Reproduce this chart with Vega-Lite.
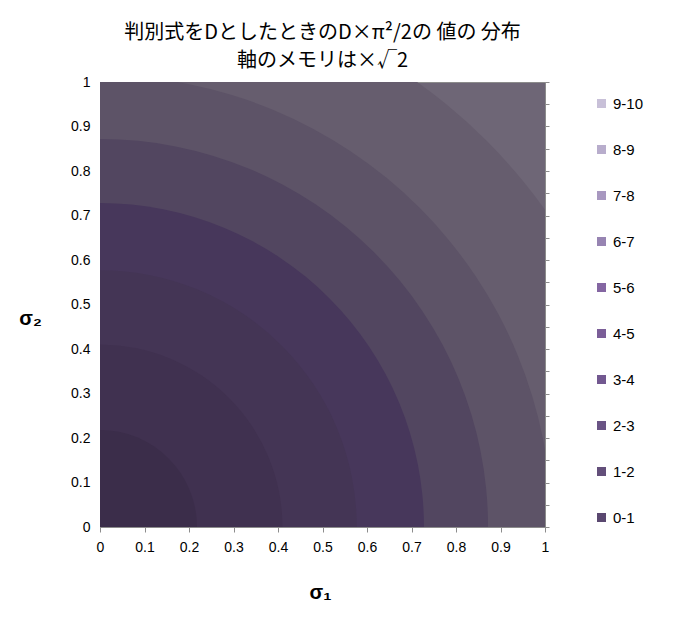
{
  "$schema": "https://vega.github.io/schema/vega-lite/v6.json",
  "width": 445,
  "height": 445,
  "autosize": "none",
  "padding": {"left": 100, "top": 82, "right": 138, "bottom": 92},
  "background": "white",
  "config": {
    "view": {"stroke": "#8c8c8c", "fill": "#6e6676"},
    "font": "Liberation Sans"
  },
  "title": {
    "text": ["判別式をDとしたときのD×π²/2の 値の 分布", "軸のメモリは×√2"],
    "font": "Noto Sans CJK JP",
    "fontSize": 20,
    "fontWeight": "normal",
    "color": "black",
    "lineHeight": 28,
    "anchor": "middle",
    "offset": 4
  },
  "layer": [
    {
      "data": {
        "values": [
          {"band": "6-7", "r": 1.228},
          {"band": "5-6", "r": 1.015},
          {"band": "4-5", "r": 0.872},
          {"band": "3-4", "r": 0.728},
          {"band": "2-3", "r": 0.577},
          {"band": "1-2", "r": 0.41},
          {"band": "0-1", "r": 0.218}
        ]
      },
      "mark": {"type": "arc", "theta": 0, "theta2": 1.5708, "clip": true},
      "encoding": {
        "x": {
          "datum": 0,
          "type": "quantitative",
          "scale": {"domain": [0, 1], "nice": false},
          "axis": {
            "title": "σ₁",
            "values": [0, 0.1, 0.2, 0.3, 0.4, 0.5, 0.6, 0.7, 0.8, 0.9, 1],
            "format": "~g",
            "grid": false,
            "labelFontSize": 14,
            "labelColor": "black",
            "labelPadding": 8,
            "labelOverlap": false,
            "labelFlush": false,
            "tickSize": 5,
            "tickColor": "#8c8c8c",
            "domainColor": "#8c8c8c",
            "titleFontSize": 20,
            "titleFontWeight": "bold",
            "titleColor": "black",
            "titleX": 220,
            "titleY": 65,
            "titleAlign": "center",
            "titleBaseline": "middle"
          }
        },
        "y": {
          "datum": 0,
          "type": "quantitative",
          "scale": {"domain": [0, 1], "nice": false},
          "axis": {
            "title": "σ₂",
            "values": [0, 0.1, 0.2, 0.3, 0.4, 0.5, 0.6, 0.7, 0.8, 0.9, 1],
            "format": "~g",
            "grid": false,
            "ticks": false,
            "labelFontSize": 14,
            "labelColor": "black",
            "labelPadding": 10,
            "labelOverlap": false,
            "labelFlush": false,
            "domainColor": "#8c8c8c",
            "titleFontSize": 20,
            "titleFontWeight": "bold",
            "titleColor": "black",
            "titleAngle": 0,
            "titleX": -70,
            "titleY": 236,
            "titleAlign": "center",
            "titleBaseline": "middle"
          }
        },
        "radius": {
          "field": "r",
          "type": "quantitative",
          "stack": null,
          "scale": {"type": "linear", "domain": [0, 1], "range": [0, 445], "zero": true}
        },
        "fill": {
          "field": "band",
          "type": "nominal",
          "scale": {
            "domain": ["0-1", "1-2", "2-3", "3-4", "4-5", "5-6", "6-7"],
            "range": ["#3b2d4a", "#403150", "#443555", "#47375b", "#524660", "#5d5367", "#665d6e"]
          },
          "legend": null
        }
      }
    },
    {
      "data": {
        "values": [
          {"band": "9-10"}, {"band": "8-9"}, {"band": "7-8"}, {"band": "6-7"}, {"band": "5-6"},
          {"band": "4-5"}, {"band": "3-4"}, {"band": "2-3"}, {"band": "1-2"}, {"band": "0-1"}
        ]
      },
      "mark": {"type": "point", "filled": true, "shape": "square", "opacity": 0},
      "encoding": {
        "x": {"datum": 0, "type": "quantitative"},
        "y": {
          "datum": 0,
          "type": "quantitative",
          "scale": {"domain": [0, 1], "nice": false},
          "axis": {
            "orient": "right",
            "values": [0, 0.05, 0.1, 0.15, 0.2, 0.25, 0.3, 0.35, 0.4, 0.45, 0.5, 0.55, 0.6, 0.65, 0.7, 0.75, 0.8, 0.85, 0.9, 0.95, 1],
            "labels": false,
            "grid": false,
            "tickSize": 4,
            "tickColor": "#8c8c8c",
            "domainColor": "#8c8c8c",
            "title": null
          }
        },
        "color": {
          "field": "band",
          "type": "nominal",
          "scale": {
            "domain": ["9-10", "8-9", "7-8", "6-7", "5-6", "4-5", "3-4", "2-3", "1-2", "0-1"],
            "range": ["#c8c0d8", "#b8adcc", "#a898c0", "#9784b2", "#8466a2", "#7b5e98", "#725890", "#6a5485", "#634f7a", "#5a4870"]
          },
          "legend": {
            "title": null,
            "orient": "none",
            "legendX": 494,
            "legendY": 14,
            "symbolType": "square",
            "symbolSize": 81,
            "symbolOpacity": 1,
            "symbolStrokeWidth": 0,
            "labelFontSize": 15,
            "labelColor": "black",
            "labelOffset": 4,
            "rowPadding": 30
          }
        }
      }
    }
  ],
  "resolve": {"scale": {"y": "independent"}}
}
